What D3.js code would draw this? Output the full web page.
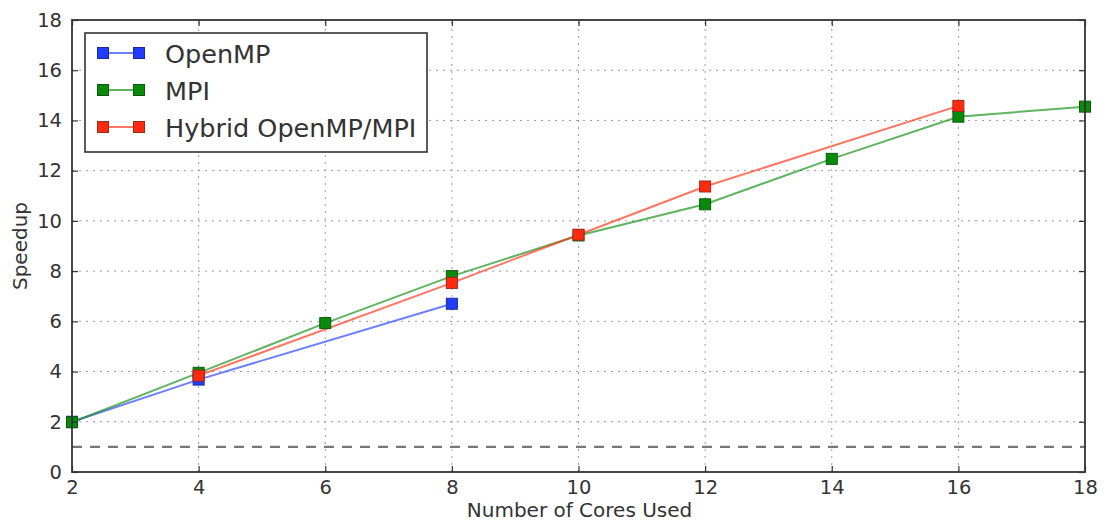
<!DOCTYPE html>
<html>
<head>
<meta charset="utf-8">
<script src="https://cdn.jsdelivr.net/npm/d3@7"></script>
<style>
  body { margin: 0; background: #fff; }
  svg { font-family: "DejaVu Sans", sans-serif; }
</style>
</head>
<body>
<svg width="1109" height="521"></svg>
<script>
// data
const openmpCores = [2, 4, 8];
const openmpSpeedup = [2.0, 3.68, 6.7];
const mpiCores = [2, 4, 6, 8, 10, 12, 14, 16, 18];
const mpiSpeedup = [1.98, 3.95, 5.93, 7.8, 9.42, 10.66, 12.47, 14.15, 14.55];
const hybridCores = [4, 8, 10, 12, 16];
const hybridSpeedup = [3.84, 7.53, 9.45, 11.37, 14.58];
const xTicks = [2, 4, 6, 8, 10, 12, 14, 16, 18];
const yTicks = [0, 2, 4, 6, 8, 10, 12, 14, 16, 18];
const baseline = 1;

const series = [
  {name: 'OpenMP', x: openmpCores, y: openmpSpeedup, color: '#1f3cff', edge: '#1a2a9a'},
  {name: 'MPI', x: mpiCores, y: mpiSpeedup, color: '#0a8a0a', edge: '#0b5a0b'},
  {name: 'Hybrid OpenMP/MPI', x: hybridCores, y: hybridSpeedup, color: '#ff2a10', edge: '#a0281a'}
];

const svg = d3.select('svg');
const margin = {left: 72, right: 24, top: 20, bottom: 49};
const width = 1109, height = 521;

const x = d3.scaleLinear().domain([2, 18]).range([margin.left, width - margin.right]);
const y = d3.scaleLinear().domain([0, 18]).range([height - margin.bottom, margin.top]);

const grid = svg.append('g');
grid.selectAll('line.gx').data(xTicks.slice(1, -1)).enter().append('line')
  .attr('x1', d => x(d)).attr('x2', d => x(d))
  .attr('y1', y(0)).attr('y2', y(18))
  .style('stroke', '#999').style('stroke-width', 1).style('stroke-dasharray', '2,5');
grid.selectAll('line.gy').data(yTicks.slice(1, -1)).enter().append('line')
  .attr('x1', x(2)).attr('x2', x(18))
  .attr('y1', d => y(d)).attr('y2', d => y(d))
  .style('stroke', '#999').style('stroke-width', 1).style('stroke-dasharray', '2,5');

// baseline speedup of 1
svg.append('line')
  .attr('x1', x(2)).attr('x2', x(18))
  .attr('y1', y(baseline)).attr('y2', y(baseline))
  .style('stroke', '#777').style('stroke-width', 2.2).style('stroke-dasharray', '10,8');

const line = d3.line().x(d => x(d[0])).y(d => y(d[1]));

series.forEach(s => {
  const pts = s.x.map((v, i) => [v, s.y[i]]);
  svg.append('path').datum(pts)
    .attr('d', line)
    .style('fill', 'none')
    .style('stroke', s.color)
    .style('stroke-opacity', 0.65)
    .style('stroke-width', 2);
});
series.forEach(s => {
  const pts = s.x.map((v, i) => [v, s.y[i]]);
  svg.append('g').selectAll('rect').data(pts).enter().append('rect')
    .attr('x', d => x(d[0]) - 5.5).attr('y', d => y(d[1]) - 5.5)
    .attr('width', 11).attr('height', 11)
    .style('fill', s.color)
    .style('stroke', s.edge).style('stroke-width', 1);
});

// frame
svg.append('rect')
  .attr('x', x(2)).attr('y', y(18))
  .attr('width', x(18) - x(2)).attr('height', y(0) - y(18))
  .style('fill', 'none').style('stroke', '#333').style('stroke-width', 1.8);

// inward ticks on all sides
const xAxisB = d3.axisBottom(x).tickValues(xTicks).tickSize(-6).tickPadding(8);
const xAxisT = d3.axisTop(x).tickValues(xTicks).tickSize(-6).tickFormat('');
const yAxisL = d3.axisLeft(y).tickValues(yTicks).tickSize(-6).tickPadding(10);
const yAxisR = d3.axisRight(y).tickValues(yTicks).tickSize(-6).tickFormat('');

function styleAxis(g) {
  g.select('.domain').remove();
  g.selectAll('.tick line').style('stroke', '#333').style('stroke-width', 1.2);
  g.selectAll('.tick text').style('font-size', '19.5px').style('fill', '#333')
    .style('font-family', '"DejaVu Sans", sans-serif');
}
svg.append('g').attr('transform', `translate(0,${y(0)})`).call(xAxisB).call(styleAxis);
svg.append('g').attr('transform', `translate(0,${y(18)})`).call(xAxisT).call(styleAxis);
svg.append('g').attr('transform', `translate(${x(2)},0)`).call(yAxisL).call(styleAxis);
svg.append('g').attr('transform', `translate(${x(18)},0)`).call(yAxisR).call(styleAxis);

svg.append('text')
  .attr('x', (x(2) + x(18)) / 2 + 1).attr('y', 517)
  .attr('text-anchor', 'middle')
  .style('font-size', '20px').style('fill', '#333')
  .text('Number of Cores Used');
svg.append('text')
  .attr('transform', `translate(27,${(y(0) + y(18)) / 2})rotate(-90)`)
  .attr('text-anchor', 'middle')
  .style('font-size', '20px').style('fill', '#333')
  .text('Speedup');

// legend
const legend = svg.append('g').attr('transform', 'translate(85,33)');
legend.append('rect')
  .attr('width', 342).attr('height', 119)
  .style('fill', '#fff').style('stroke', '#333').style('stroke-width', 1.6);
series.forEach((s, i) => {
  const ly = 20 + i * 37;
  const row = legend.append('g').attr('transform', `translate(0,${ly})`);
  row.append('line').attr('x1', 18).attr('x2', 54).attr('y1', 0).attr('y2', 0)
    .style('stroke', s.color).style('stroke-opacity', 0.65).style('stroke-width', 2);
  [18, 54].forEach(cx => row.append('rect')
    .attr('x', cx - 5.5).attr('y', -5.5).attr('width', 11).attr('height', 11)
    .style('fill', s.color).style('stroke', s.edge).style('stroke-width', 1));
  row.append('text').attr('x', 80).attr('y', 9.5)
    .style('font-size', '25.5px').style('fill', '#333')
    .text(s.name);
});
</script>
</body>
</html>
